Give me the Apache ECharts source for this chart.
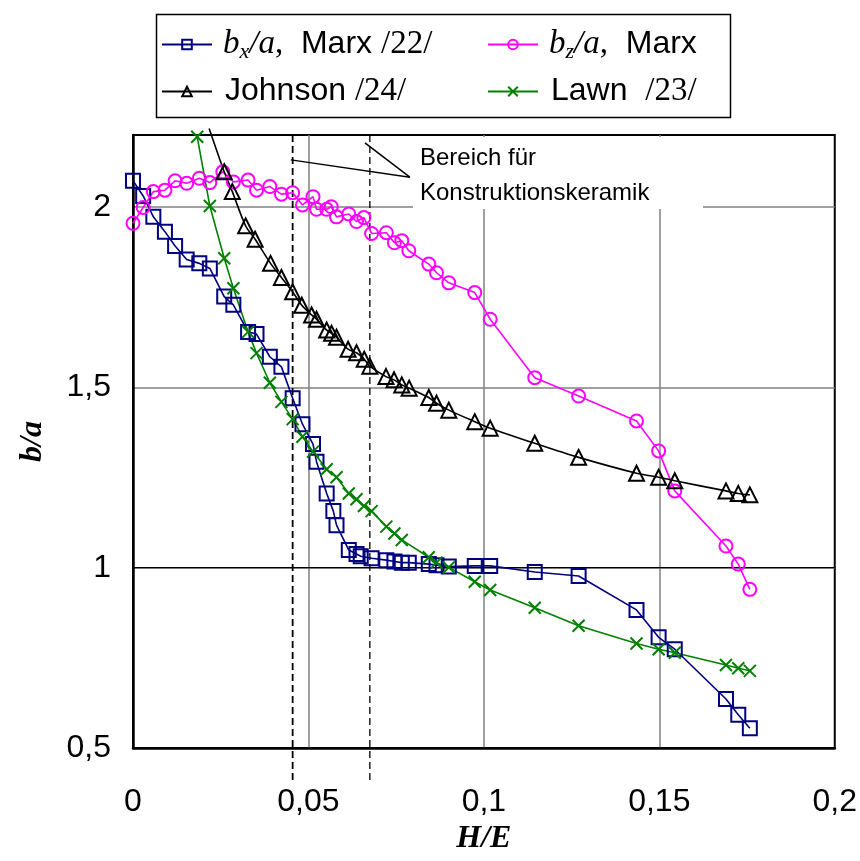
<!DOCTYPE html>
<html><head><meta charset="utf-8">
<script src="https://cdn.jsdelivr.net/npm/echarts@6/dist/echarts.min.js"></script>
<style>html,body{margin:0;padding:0;background:#fff}#c{width:860px;height:861px}</style>
</head><body><div id="c"></div>
<script>
// ---- data (H/E vs b/a) ----
const xTicks = [0, 0.05, 0.1, 0.15, 0.2];
const yTicks = [0.5, 1, 1.5, 2];

const bxX = [0,0.0029,0.0058,0.0091,0.012,0.0153,0.0189,0.0219,0.026,0.0286,0.0328,0.0352,0.039,0.0423,0.0455,0.0483,0.0513,0.0523,0.0552,0.0571,0.058,0.0615,0.0637,0.0649,0.068,0.0722,0.0745,0.0766,0.0786,0.0843,0.0865,0.09,0.0974,0.1018,0.1145,0.127,0.1435,0.1498,0.1544,0.169,0.1725,0.1758];
const bxY = [2.073,2.031,1.973,1.932,1.892,1.855,1.844,1.830,1.752,1.729,1.654,1.648,1.585,1.557,1.470,1.398,1.343,1.294,1.206,1.157,1.118,1.049,1.038,1.032,1.026,1.021,1.017,1.014,1.014,1.010,1.007,1.003,1.005,1.005,0.988,0.977,0.883,0.807,0.774,0.636,0.592,0.555];

const bzX = [0,0.0029,0.0058,0.0091,0.012,0.0153,0.0189,0.0219,0.0256,0.0286,0.0328,0.0352,0.039,0.0423,0.0455,0.0483,0.0513,0.0523,0.0552,0.0565,0.058,0.0615,0.0637,0.0658,0.068,0.0722,0.0745,0.0766,0.0786,0.0843,0.0865,0.09,0.0974,0.1018,0.1145,0.127,0.1435,0.1498,0.1544,0.169,0.1725,0.1758];
const bzY = [1.955,1.999,2.043,2.047,2.073,2.066,2.080,2.068,2.098,2.070,2.075,2.047,2.057,2.036,2.040,2.006,2.029,1.994,1.994,2.001,1.973,1.981,1.960,1.971,1.927,1.929,1.901,1.907,1.879,1.842,1.818,1.790,1.763,1.689,1.527,1.476,1.407,1.324,1.213,1.060,1.010,0.940];

const joX = [0.0217,0.026,0.0283,0.0321,0.0348,0.0392,0.0423,0.0455,0.0481,0.0509,0.0523,0.0552,0.0566,0.058,0.0613,0.0637,0.0659,0.0675,0.0721,0.0744,0.0766,0.0787,0.0843,0.0865,0.09,0.0974,0.1018,0.1145,0.127,0.1435,0.1498,0.1544,0.169,0.1725,0.1758];
const joY = [2.218,2.098,2.043,1.948,1.911,1.844,1.805,1.765,1.728,1.701,1.689,1.659,1.650,1.639,1.606,1.596,1.578,1.559,1.530,1.521,1.507,1.498,1.472,1.456,1.437,1.405,1.387,1.345,1.306,1.262,1.251,1.241,1.213,1.206,1.202];

const laX = [0.0183,0.0219,0.026,0.0286,0.0328,0.0352,0.039,0.0423,0.0455,0.0483,0.0513,0.0552,0.058,0.0615,0.0637,0.0658,0.068,0.0722,0.0745,0.0766,0.0843,0.0865,0.09,0.0974,0.1018,0.1145,0.127,0.1435,0.1498,0.1544,0.169,0.1725,0.1758];
const laY = [2.195,2.003,1.858,1.775,1.654,1.595,1.513,1.460,1.412,1.363,1.322,1.273,1.251,1.206,1.190,1.171,1.157,1.114,1.095,1.077,1.029,1.014,1.001,0.961,0.938,0.889,0.839,0.790,0.774,0.764,0.730,0.721,0.714];

// ceramic range (dashed lines) and pointer lines of the note
const rangeX = [0.0455, 0.0675];
const rangeY = [2.2, 0.405];
const pointerA = [[0.045, 2.131], [0.0789, 2.083]];
const pointerB = [[0.0661, 2.178], [0.0789, 2.083]];
const noteLines = ['Bereich für', 'Konstruktionskeramik'];

const pairs = (xs, ys) => xs.map((x, i) => [x, ys[i]]);
const comma = v => String(v).replace('.', ',');

const chart = echarts.init(document.getElementById('c'), null, {renderer: 'canvas'});

const SANS = '"Liberation Sans", Arial, sans-serif';
const SERIF = '"Liberation Serif", "Times New Roman", serif';

const rich = {
  ti: {fontFamily: SERIF, fontStyle: 'italic', fontSize: 33, color: '#000', lineHeight: 38},
  ti0: {fontFamily: SERIF, fontStyle: 'italic', fontSize: 33, color: '#000', lineHeight: 38, padding: [0, 0, 0, 6]},
  sub: {fontFamily: SERIF, fontStyle: 'italic', fontSize: 22, color: '#000', padding: [15, 0, 0, 0], lineHeight: 38},
  tr: {fontFamily: SERIF, fontSize: 33, color: '#000', lineHeight: 38},
  ar: {fontFamily: SANS, fontSize: 32, color: '#000', lineHeight: 38},
  ar0: {fontFamily: SANS, fontSize: 32, color: '#000', lineHeight: 38, padding: [0, 0, 0, 8]}
};
const legendText = {
  bx: '{ti0|b}{sub|x}{ti|/a}{tr|,}{ar|  Marx }{tr|/22/}',
  bz: '{ti0|b}{sub|z}{ti|/a}{tr|,}{ar|  Marx}',
  jo: '{ar0|Johnson }{tr|/24/}',
  la: '{ar0|Lawn  }{tr|/23/}'
};
const legendBase = {
  orient: 'vertical', top: 26, itemWidth: 50, itemHeight: 12, itemGap: 12,
  selectedMode: false, padding: 0,
  formatter: n => legendText[n],
  textStyle: {rich: rich, fontFamily: SANS, fontSize: 32, color: '#000'}
};

const guide = (data, w, type) => ({
  type: 'line', data: data, symbol: 'none', clip: false, silent: true,
  lineStyle: {color: '#000', width: w, type: type}, z: 4
});

const option = {
  animation: false,
  backgroundColor: '#fff',
  grid: {left: 133, right: 25, top: 135, bottom: 113, show: true, borderColor: '#000', borderWidth: 2},
  legend: [
    Object.assign({}, legendBase, {left: 161, data: ['bx', 'jo']}),
    Object.assign({}, legendBase, {left: 487, data: ['bz', 'la']})
  ],
  xAxis: {
    type: 'value', min: xTicks[0], max: xTicks[xTicks.length - 1], interval: 0.05,
    name: 'H/E', nameLocation: 'middle', nameGap: 59,
    nameTextStyle: {fontFamily: SERIF, fontStyle: 'italic', fontWeight: 'bold', fontSize: 32, color: '#000'},
    axisLine: {show: true, onZero: false, lineStyle: {color: '#000', width: 2.5}},
    axisTick: {show: false},
    axisLabel: {formatter: comma, fontFamily: SANS, fontSize: 32, color: '#000', margin: 38},
    splitLine: {show: true, showMinLine: false, showMaxLine: false, lineStyle: {color: '#808080', width: 1.5}}
  },
  yAxis: {
    type: 'value', min: yTicks[0], max: 2.2, interval: 0.5,
    name: 'b/a', nameLocation: 'middle', nameGap: 84, nameRotate: 90,
    nameTextStyle: {fontFamily: SERIF, fontStyle: 'italic', fontWeight: 'bold', fontSize: 32, color: '#000'},
    axisLine: {show: true, onZero: false, lineStyle: {color: '#000', width: 2.5}},
    axisTick: {show: false},
    axisLabel: {formatter: comma, fontFamily: SANS, fontSize: 32, color: '#000', margin: 22, showMaxLabel: false},
    splitLine: {show: true, showMinLine: false, showMaxLine: false, lineStyle: {color: '#808080', width: 1.5}}
  },
  graphic: [
    {type: 'rect', left: 413, top: 137, shape: {width: 290, height: 72}, style: {fill: '#fff'}, z: 50},
    {type: 'text', left: 420, top: 141, z: 51,
      style: {text: noteLines.join('\n'), fontFamily: SANS, fontSize: 24, lineHeight: 35, fill: '#000'}},
    {type: 'rect', left: 154, top: 12, shape: {width: 574, height: 103}, style: {fill: 'none', stroke: '#000', lineWidth: 1.5}, z: 60}
  ],
  series: [
    guide([[1e-9, 1], [0.2, 1]], 1.2, 'solid'),
    guide([[rangeX[0], rangeY[0]], [rangeX[0], rangeY[1]]], 1.8, [7, 4]),
    guide([[rangeX[1], rangeY[0]], [rangeX[1], rangeY[1]]], 1.3, [7, 4]),
    guide(pointerA, 1.5, 'solid'),
    guide(pointerB, 1.5, 'solid'),
    {
      name: 'bx', type: 'line', data: pairs(bxX, bxY), symbol: 'rect', symbolSize: 14,
      itemStyle: {color: 'rgba(0,0,0,0)', borderColor: '#000080', borderWidth: 2},
      lineStyle: {color: '#000080', width: 1.6}, z: 10
    },
    {
      name: 'bz', type: 'line', data: pairs(bzX, bzY), symbol: 'circle', symbolSize: 13,
      itemStyle: {color: 'rgba(0,0,0,0)', borderColor: '#FF00FF', borderWidth: 2},
      lineStyle: {color: '#FF00FF', width: 1.6}, z: 10
    },
    {
      name: 'jo', type: 'line', clip: false, smooth: 0.3,
      data: joX.map((x, i) => i === 0 ? {value: [x, joY[i]], symbol: 'none'} : [x, joY[i]]),
      symbol: 'triangle', symbolSize: 15,
      itemStyle: {color: 'rgba(0,0,0,0)', borderColor: '#000', borderWidth: 2},
      lineStyle: {color: '#000', width: 1.6}, z: 10
    },
    {
      name: 'la', type: 'line', data: pairs(laX, laY), symbol: 'path://M0,0L10,10M10,0L0,10', symbolSize: 12,
      itemStyle: {color: 'rgba(0,0,0,0)', borderColor: '#008000', borderWidth: 2},
      lineStyle: {color: '#008000', width: 1.6}, z: 10
    }
  ]
};
chart.setOption(option);
</script></body></html>
